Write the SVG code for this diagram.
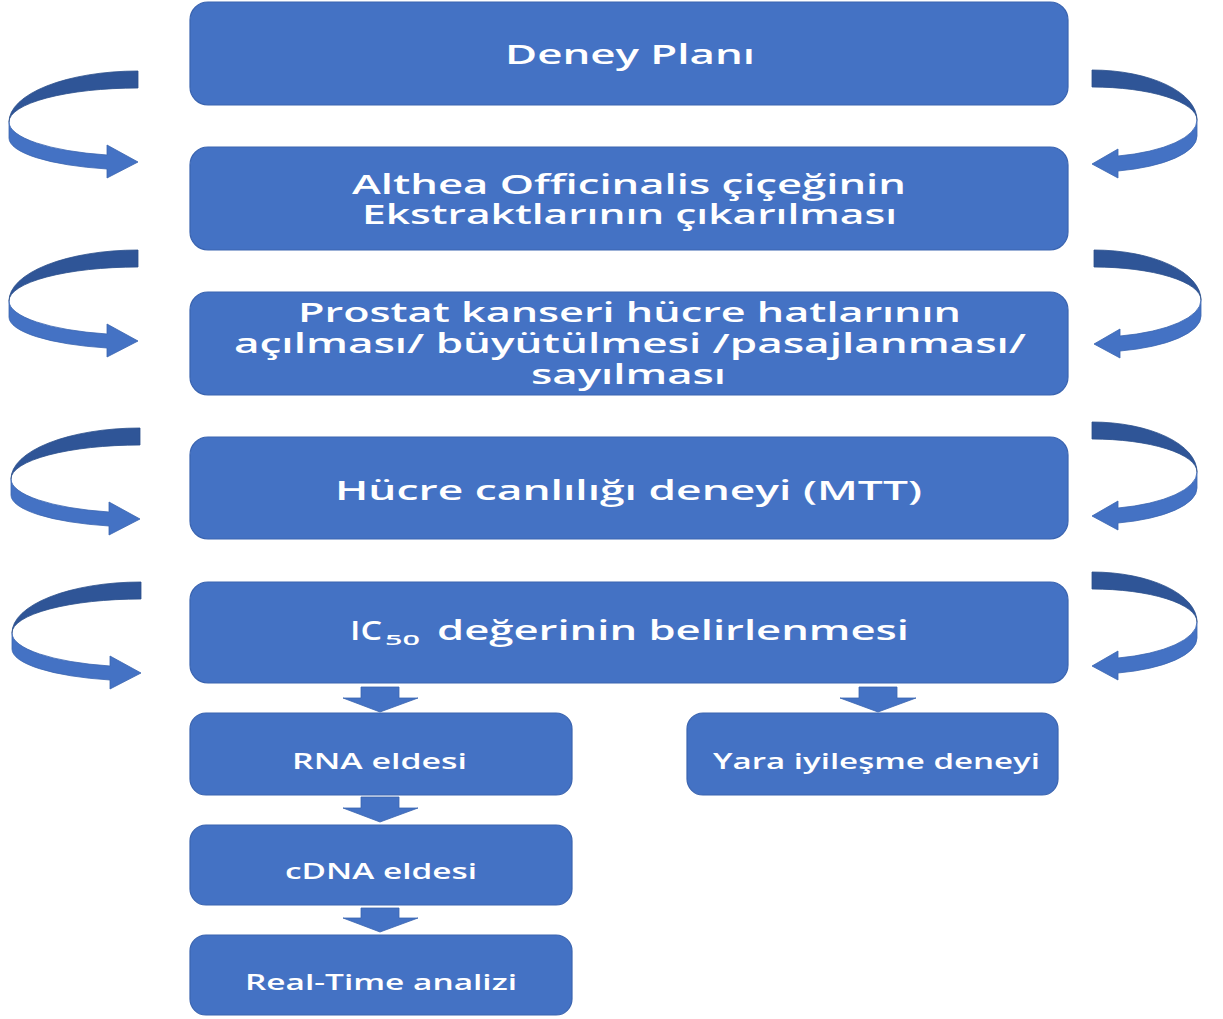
<svg xmlns="http://www.w3.org/2000/svg" width="1223" height="1019" viewBox="0 0 1223 1019">
<style>
.box{fill:#4472C4;stroke:#3A64B0;stroke-width:1.2}
.dark{fill:#2F5597;stroke:#2B4F8C;stroke-width:0.8}
.light{fill:#4472C4;stroke:#3A64B0;stroke-width:0.8}
.down{fill:#4472C4;stroke:#3A64B0;stroke-width:0.8}
.t{font-family:"Open Sans","Liberation Sans",sans-serif;font-weight:600;fill:#ffffff;font-size:27px}
.s{font-family:"Open Sans","Liberation Sans",sans-serif;font-weight:600;fill:#ffffff;font-size:21px}
.sub{font-family:"Open Sans","Liberation Sans",sans-serif;font-weight:600;fill:#ffffff;font-size:15px}
</style>
<rect width="1223" height="1019" fill="#ffffff"/>
<g id="connectors">
  <!-- left curved arrows -->
  <g transform="translate(138,71)">
    <path class="dark" d="M0,0 A129,51 0 0 0 -129,51 A129,34 0 0 1 0,17 Z"/>
    <path class="light" d="M-129,51 A129,34 0 0 0 -31,84 L-31,74 L0,91 L-31,107 L-31,98 A129,32 0 0 1 -129,67 Z"/>
  </g>
  <g transform="translate(138,250)">
    <path class="dark" d="M0,0 A129,51 0 0 0 -129,51 A129,34 0 0 1 0,17 Z"/>
    <path class="light" d="M-129,51 A129,34 0 0 0 -31,84 L-31,74 L0,91 L-31,107 L-31,98 A129,32 0 0 1 -129,67 Z"/>
  </g>
  <g transform="translate(140,428)">
    <path class="dark" d="M0,0 A129,51 0 0 0 -129,51 A129,34 0 0 1 0,17 Z"/>
    <path class="light" d="M-129,51 A129,34 0 0 0 -31,84 L-31,74 L0,91 L-31,107 L-31,98 A129,32 0 0 1 -129,67 Z"/>
  </g>
  <g transform="translate(141,582)">
    <path class="dark" d="M0,0 A129,51 0 0 0 -129,51 A129,34 0 0 1 0,17 Z"/>
    <path class="light" d="M-129,51 A129,34 0 0 0 -31,84 L-31,74 L0,91 L-31,107 L-31,98 A129,32 0 0 1 -129,67 Z"/>
  </g>
  <!-- right curved arrows -->
  <g transform="translate(1092,70)">
    <path class="dark" d="M0,0 A105,50 0 0 1 105,50 A105,33 0 0 0 0,17 Z"/>
    <path class="light" d="M105,50 A105,37 0 0 1 26,86 L26,79 L0,94 L26,108 L26,101 A105,36 0 0 0 105,66 Z"/>
  </g>
  <g transform="translate(1094,250)">
    <path class="dark" d="M0,0 A107,50 0 0 1 107,50 A107,33 0 0 0 0,17 Z"/>
    <path class="light" d="M107,50 A107,37 0 0 1 26,86 L26,79 L0,94 L26,108 L26,101 A107,36 0 0 0 107,66 Z"/>
  </g>
  <g transform="translate(1092,422)">
    <path class="dark" d="M0,0 A105,50 0 0 1 105,50 A105,33 0 0 0 0,17 Z"/>
    <path class="light" d="M105,50 A105,37 0 0 1 26,86 L26,79 L0,94 L26,108 L26,101 A105,36 0 0 0 105,66 Z"/>
  </g>
  <g transform="translate(1092,572)">
    <path class="dark" d="M0,0 A105,50 0 0 1 105,50 A105,33 0 0 0 0,17 Z"/>
    <path class="light" d="M105,50 A105,37 0 0 1 26,86 L26,79 L0,94 L26,108 L26,101 A105,36 0 0 0 105,66 Z"/>
  </g>
  <!-- down arrows -->
  <path class="down" d="M361,687 H399 V698 H418 L380,712 L343,698 H361 Z"/>
  <path class="down" d="M859,687 H897 V698 H916 L878,712 L840,698 H859 Z"/>
  <path class="down" d="M361,797 H399 V808 H418 L380,822 L343,808 H361 Z"/>
  <path class="down" d="M361,908 H399 V918 H418 L380,932 L343,918 H361 Z"/>
</g>
<g id="n1">
  <rect class="box" x="190" y="2" width="878" height="103" rx="18"/>
  <text class="t" x="505" y="64" textLength="250" lengthAdjust="spacingAndGlyphs">Deney Planı</text>
</g>
<g id="n2">
  <rect class="box" x="190" y="147" width="878" height="103" rx="18"/>
  <text class="t" x="352" y="194" textLength="554" lengthAdjust="spacingAndGlyphs">Althea Officinalis çiçeğinin</text>
  <text class="t" x="362" y="224" textLength="535" lengthAdjust="spacingAndGlyphs">Ekstraktlarının çıkarılması</text>
</g>
<g id="n3">
  <rect class="box" x="190" y="292" width="878" height="103" rx="18"/>
  <text class="t" x="298" y="322" textLength="663" lengthAdjust="spacingAndGlyphs">Prostat kanseri hücre hatlarının</text>
  <text class="t" x="234" y="353" textLength="792" lengthAdjust="spacingAndGlyphs">açılması/ büyütülmesi /pasajlanması/</text>
  <text class="t" x="531" y="384" textLength="195" lengthAdjust="spacingAndGlyphs">sayılması</text>
</g>
<g id="n4">
  <rect class="box" x="190" y="437" width="878" height="102" rx="18"/>
  <text class="t" x="335" y="500" textLength="587" lengthAdjust="spacingAndGlyphs">Hücre canlılığı deneyi (MTT)</text>
</g>
<g id="n5">
  <rect class="box" x="190" y="582" width="878" height="101" rx="18"/>
  <text class="t" x="350" y="640" textLength="32" lengthAdjust="spacingAndGlyphs">IC</text>
  <text class="sub" x="385" y="645" textLength="35" lengthAdjust="spacingAndGlyphs">50</text>
  <text class="t" x="437" y="640" textLength="472" lengthAdjust="spacingAndGlyphs">değerinin belirlenmesi</text>
</g>
<g id="n6">
  <rect class="box" x="190" y="713" width="382" height="82" rx="16"/>
  <text class="s" x="292" y="769" textLength="175" lengthAdjust="spacingAndGlyphs">RNA eldesi</text>
</g>
<g id="n7">
  <rect class="box" x="687" y="713" width="371" height="82" rx="16"/>
  <text class="s" x="713" y="769" textLength="327" lengthAdjust="spacingAndGlyphs">Yara iyileşme deneyi</text>
</g>
<g id="n8">
  <rect class="box" x="190" y="825" width="382" height="80" rx="16"/>
  <text class="s" x="285" y="879" textLength="192" lengthAdjust="spacingAndGlyphs">cDNA eldesi</text>
</g>
<g id="n9">
  <rect class="box" x="190" y="935" width="382" height="80" rx="16"/>
  <text class="s" x="245" y="990" textLength="272" lengthAdjust="spacingAndGlyphs">Real-Time analizi</text>
</g>
</svg>
